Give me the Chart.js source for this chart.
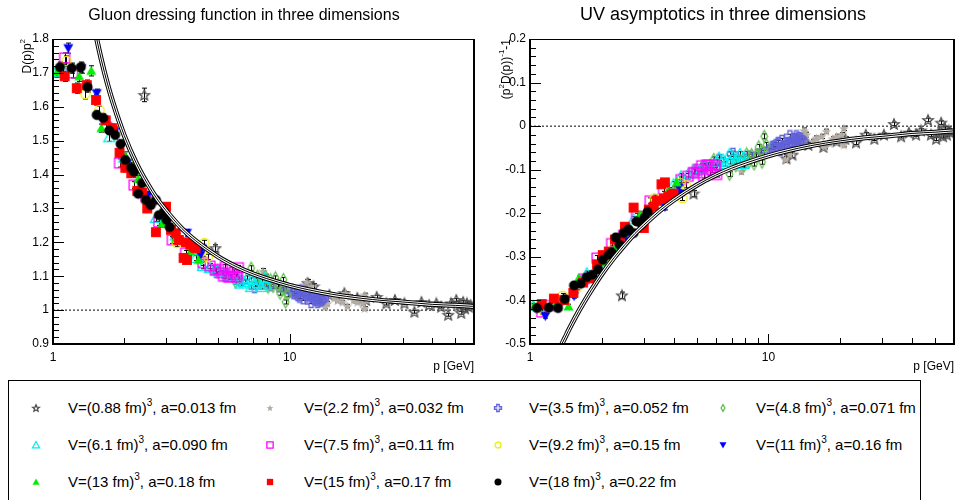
<!DOCTYPE html>
<html>
<head>
<meta charset="utf-8">
<script src="https://cdn.jsdelivr.net/npm/chart.js@4.4.0/dist/chart.umd.min.js"></script>
<style>
body { margin: 0; background: #fff; font-family: "Liberation Sans", Arial, sans-serif; }
#marco { position: relative; width: 960px; height: 500px; overflow: hidden; }
#grafIzq { position: absolute; left: 0; top: 0; }
#grafDer { position: absolute; left: 480px; top: 0; }
#leyenda { position: absolute; left: 8px; top: 380px; width: 913px; height: 140px; border: 1px solid #000; box-sizing: border-box; }
#leyenda canvas { position: absolute; }
.item { position: absolute; font-size: 15px; line-height: 18px; white-space: nowrap; color: #000; }
.item sup { font-size: 10px; vertical-align: 0; position: relative; top: -7px; }
</style>
</head>
<body>
<div id="marco">
  <canvas id="grafIzq" width="480" height="375"></canvas>
  <canvas id="grafDer" width="480" height="375"></canvas>
  <div id="leyenda"></div>
</div>
<script>
// datos: [p (GeV), D(p)p^2, error]
const s088 = [[2.43,1.635,0.02],[4.85,1.183,0.01],[11.9,1.08,0.01],[12.6,1.07,0.008],[14.7,1.045,0.006],[17.0,1.05,0.006],
  [19.3,1.036,0.005],[21.0,1.03,0.005],[23.3,1.039,0.005],[25.6,1.02,0.005],[27.8,1.03,0.004],[30.5,1.02,0.004],
  [33.6,0.995,0.004],[36.0,1.024,0.004],[38.8,1.015,0.004],[41.6,1.02,0.004],[43.6,1.01,0.004],[46.7,0.986,0.004],
  [48.0,1.02,0.004],[50.5,1.03,0.004],[52.0,1.015,0.004],[53.0,0.992,0.004],[54.0,1.024,0.004],[55.0,1.005,0.004],
  [56.0,1.02,0.004],[57.0,1.01,0.004],[58.0,1.015,0.004]]
const s22 = [[7.7,1.115,0.008],[11.8,1.083,0.008],[12.3,1.07,0.007],[14.1,1.036,0.006],[14.4,1.045,0.006],[14.4,1.02,0.006],
  [14.1,1.01,0.006],[15.4,1.036,0.005],[15.9,1.028,0.005],[16.7,1.024,0.005],[17.2,1.05,0.005],[17.5,1.012,0.005],
  [18.0,1.04,0.005],[18.6,1.03,0.005],[19.3,1.024,0.005],[19.8,1.035,0.005],[20.3,1.02,0.005],[20.7,1.045,0.005],
  [20.7,1.005,0.005],[21.2,1.03,0.005]]
const s35 = [[4.9,1.113,0.008],[5.4,1.105,0.008],[6.2,1.085,0.007],[7.1,1.068,0.007],[8.3,1.075,0.006],[9.0,1.07,0.006],
  [9.6,1.065,0.006],[10.1,1.06,0.006],[10.4,1.05,0.006],[10.6,1.055,0.006],[10.8,1.045,0.006],[11.0,1.04,0.006],
  [11.2,1.058,0.006],[11.4,1.035,0.006],[11.6,1.05,0.006],[12.0,1.04,0.005],[12.2,1.045,0.005],[12.3,1.024,0.005],
  [12.6,1.045,0.005],[12.8,1.036,0.005],[12.9,1.03,0.005],[13.1,1.024,0.005],[13.3,1.039,0.005],[13.4,1.028,0.005],
  [13.6,1.03,0.005],[13.8,1.035,0.005]]
const s48 = [[4.0,1.18,0.008],[5.9,1.083,0.007],[6.87,1.124,0.007],[7.3,1.1,0.007],[7.6,1.085,0.006],[7.9,1.1,0.006],
  [8.1,1.068,0.006],[8.3,1.089,0.006],[8.5,1.07,0.006],[8.7,1.095,0.006],[8.9,1.074,0.006],[9.1,1.05,0.006],
  [9.35,1.06,0.006],[9.4,1.09,0.006],[9.6,1.024,0.006],[9.8,1.045,0.006]]
const s61 = [[1.03,1.703,0.015],[1.1,1.71,0.015],[1.73,1.51,0.012],[2.0,1.45,0.012],[2.35,1.37,0.01],[2.72,1.272,0.01],
  [3.3,1.22,0.01],[4.0,1.154,0.008],[4.3,1.13,0.008],[4.6,1.124,0.008],[4.9,1.115,0.008],[5.2,1.11,0.007],
  [5.4,1.1,0.007],[5.66,1.098,0.007],[6.1,1.09,0.007],[6.2,1.078,0.007],[6.45,1.083,0.006],[6.6,1.095,0.006],
  [6.87,1.089,0.006],[6.87,1.068,0.006],[7.1,1.075,0.006],[7.3,1.09,0.006],[7.35,1.08,0.006],[7.6,1.068,0.006],
  [7.85,1.095,0.006],[7.9,1.075,0.006]]
const s75 = [[1.12,1.744,0.015],[1.21,1.70,0.015],[1.68,1.54,0.012],[1.91,1.434,0.012],[2.2,1.369,0.01],[2.47,1.334,0.01],
  [2.8,1.26,0.01],[3.19,1.207,0.01],[3.63,1.168,0.008],[4.3,1.14,0.008],[4.6,1.13,0.008],[4.85,1.119,0.008],
  [5.0,1.12,0.007],[5.15,1.11,0.007],[5.25,1.1,0.007],[5.35,1.128,0.007],[5.5,1.098,0.007],[5.6,1.098,0.007],
  [5.7,1.12,0.007],[5.8,1.112,0.007],[5.95,1.098,0.007],[6.0,1.105,0.007],[6.06,1.125,0.007]]
const s92 = [[1.14,1.735,0.015],[1.37,1.638,0.015],[1.57,1.59,0.012],[1.83,1.53,0.012],[2.14,1.425,0.01],[2.59,1.316,0.01],
  [3.09,1.257,0.01],[3.33,1.198,0.01],[4.28,1.151,0.008],[4.36,1.198,0.008],[4.5,1.157,0.008]]
const s11 = [[1.16,1.773,0.015],[1.32,1.714,0.015],[1.53,1.64,0.012],[1.82,1.526,0.012],[2.06,1.434,0.01],[2.52,1.34,0.01],
  [3.0,1.287,0.01],[3.68,1.228,0.01],[4.2,1.163,0.008],[4.25,1.183,0.008]]
const s13 = [[1.04,1.703,0.015],[1.29,1.69,0.015],[1.45,1.706,0.015],[1.6,1.537,0.012],[1.82,1.527,0.012],[2.02,1.455,0.012],
  [2.29,1.387,0.01],[2.47,1.325,0.01],[2.89,1.255,0.01],[3.31,1.213,0.01],[3.81,1.172,0.008],[4.12,1.148,0.008]]
const s15 = [[1.12,1.69,0.015],[1.26,1.655,0.015],[1.39,1.664,0.015],[1.52,1.62,0.015],[1.67,1.56,0.012],[1.78,1.537,0.012],
  [1.91,1.464,0.012],[2.02,1.42,0.012],[2.14,1.404,0.012],[2.27,1.352,0.01],[2.38,1.346,0.01],[2.5,1.30,0.01],
  [2.72,1.23,0.01],[3.0,1.305,0.01],[3.15,1.237,0.01],[3.3,1.227,0.01],[3.4,1.207,0.01],[3.56,1.154,0.01],
  [3.64,1.20,0.01],[3.68,1.148,0.01],[3.8,1.193,0.01],[3.93,1.187,0.01],[4.0,1.183,0.01]]
const s18 = [[1.07,1.717,0.015],[1.2,1.714,0.015],[1.31,1.717,0.015],[1.4,1.658,0.015],[1.53,1.576,0.012],[1.63,1.567,0.012],
  [1.73,1.53,0.012],[1.83,1.517,0.012],[1.93,1.49,0.012],[2.02,1.443,0.012],[2.14,1.42,0.01],[2.2,1.408,0.01],
  [2.29,1.343,0.01],[2.38,1.375,0.01],[2.47,1.325,0.01],[2.59,1.31,0.01],[2.72,1.325,0.01],[2.8,1.28,0.01],
  [2.94,1.29,0.01],[3.02,1.266,0.01],[3.11,1.245,0.01]]
const series = [s088, s22, s35, s48, s61, s75, s92, s11, s13, s15, s18]
const volumenes = ["0.88", "2.2", "3.5", "4.8", "6.1", "7.5", "9.2", "11", "13", "15", "18"]
const espaciados = ["0.013", "0.032", "0.052", "0.071", "0.090", "0.11", "0.15", "0.16", "0.18", "0.17", "0.22"]

// curva de ajuste
const ajusteP = [1.36, 1.4, 1.45, 1.5, 1.6, 1.7, 1.8, 2, 2.25, 2.5, 2.75, 3, 3.5, 4, 5, 6, 7, 8, 10, 12, 15, 20, 25, 30, 40, 50, 60]
const ajusteD = [2.0, 1.946, 1.883, 1.829, 1.739, 1.667, 1.608, 1.515, 1.433, 1.374, 1.328, 1.294, 1.241, 1.205, 1.157,
  1.127, 1.107, 1.093, 1.073, 1.06, 1.047, 1.035, 1.028, 1.024, 1.017, 1.014, 1.011]

// ejes
const xEtiquetas = [1, 10]
const xMenores = [2, 3, 4, 5, 6, 7, 8, 9, 20, 30, 40, 50]
const yEtiquetasIzq = [0.9, 1, 1.1, 1.2, 1.3, 1.4, 1.5, 1.6, 1.7, 1.8]
const yEtiquetasDer = [-0.5, -0.4, -0.3, -0.2, -0.1, 0, 0.1, 0.2]

const familia = "'Liberation Sans', Arial, sans-serif"
const estilos = [
  { tipo: "estrella", color: "#4d4d4d", t: 11 },
  { tipo: "estrellaLlena", color: "#b5ada5", t: 10 },
  { tipo: "cruz", color: "#6262dc", t: 11 },
  { tipo: "rombo", color: "#5fbf4c", t: 12 },
  { tipo: "tri", color: "#00eeee", t: 11 },
  { tipo: "cuadro", color: "#ff00ff", t: 11 },
  { tipo: "circulo", color: "#eeee00", t: 11 },
  { tipo: "triAbajoLleno", color: "#0000ff", t: 10 },
  { tipo: "triLleno", color: "#00ee00", t: 10 },
  { tipo: "cuadroLleno", color: "#ff0000", t: 11 },
  { tipo: "circuloLleno", color: "#000000", t: 10 }
]

function marcador(tipo, color, t) {
  const c = document.createElement("canvas")
  c.width = t + 3
  c.height = t + 3
  const g = c.getContext("2d")
  const m = c.width / 2, r = t / 2
  g.strokeStyle = color
  g.fillStyle = color
  g.lineWidth = 1.3
  let pts = null
  if (tipo == "estrella" || tipo == "estrellaLlena") {
    pts = []
    for (let k = 0; k < 10; k++) {
      const rr = k % 2 ? r * 0.45 : r
      const a = -Math.PI / 2 + k * Math.PI / 5
      pts.push([rr * Math.cos(a), rr * Math.sin(a) + r * 0.1])
    }
  } else if (tipo == "cruz") {
    const w = r * 0.36
    pts = [[-w, -r], [w, -r], [w, -w], [r, -w], [r, w], [w, w], [w, r], [-w, r], [-w, w], [-r, w], [-r, -w], [-w, -w]]
  } else if (tipo == "rombo") {
    pts = [[0, -r], [r * 0.55, 0], [0, r], [-r * 0.55, 0]]
  } else if (tipo == "tri" || tipo == "triLleno") {
    pts = [[0, -r], [r, r * 0.8], [-r, r * 0.8]]
  } else if (tipo == "triAbajoLleno") {
    pts = [[0, r], [r, -r * 0.8], [-r, -r * 0.8]]
  } else if (tipo == "cuadro" || tipo == "cuadroLleno") {
    const q = r * 0.9
    pts = [[-q, -q], [q, -q], [q, q], [-q, q]]
  }
  g.beginPath()
  if (pts) {
    pts.forEach(p => g.lineTo(m + p[0], m + p[1]))
    g.closePath()
  } else {
    g.arc(m, m, r * (tipo == "circulo" ? 0.85 : 1), 0, Math.PI * 2)
  }
  if (tipo.indexOf("Llen") >= 0) g.fill()
  else g.stroke()
  return c
}

const barrasError = {
  id: "barrasError",
  beforeDatasetsDraw(chart) {
    const g = chart.ctx, a = chart.chartArea, ys = chart.scales.y
    g.save()
    g.beginPath()
    g.rect(a.left, a.top, a.right - a.left, a.bottom - a.top)
    g.clip()
    g.strokeStyle = "#000"
    g.lineWidth = 1
    g.beginPath()
    chart.data.datasets.forEach((ds, i) => {
      if (!ds.errores) return
      const meta = chart.getDatasetMeta(i)
      meta.data.forEach((pt, j) => {
        const x = Math.round(pt.x) + 0.5
        const y0 = ys.getPixelForValue(ds.data[j].y - ds.errores[j])
        const y1 = ys.getPixelForValue(ds.data[j].y + ds.errores[j])
        g.moveTo(x, y0); g.lineTo(x, y1)
        g.moveTo(x - 2.5, y0); g.lineTo(x + 2.5, y0)
        g.moveTo(x - 2.5, y1); g.lineTo(x + 2.5, y1)
      })
    })
    g.stroke()
    g.restore()
  }
}

function textoRico(g, partes, xFin) {
  const normal = "12px " + familia, sup = "8px " + familia
  let ancho = 0
  partes.forEach(p => { g.font = p[1] ? sup : normal; ancho += g.measureText(p[0]).width })
  let x = xFin - ancho
  g.textAlign = "left"
  g.textBaseline = "middle"
  partes.forEach(p => {
    g.font = p[1] ? sup : normal
    g.fillText(p[0], x, p[1] ? -5 : 0)
    x += g.measureText(p[0]).width
  })
}

function decorado(cfg) {
  return {
    id: "decorado",
    afterDraw(chart) {
      const g = chart.ctx, a = chart.chartArea, sx = chart.scales.x, sy = chart.scales.y
      g.save()
      g.strokeStyle = "#000"
      g.lineWidth = 1
      g.beginPath()
      const n = Math.round((cfg.yMax - cfg.yMin) / 0.02)
      for (let k = 0; k <= n; k++) {
        const py = Math.round(sy.getPixelForValue(cfg.yMin + k * 0.02)) + 0.5
        g.moveTo(a.left, py)
        g.lineTo(a.left + (k % 5 == 0 ? 11 : 6), py)
      }
      xEtiquetas.forEach(v => {
        const px = Math.round(sx.getPixelForValue(v)) + 0.5
        g.moveTo(px, a.bottom); g.lineTo(px, a.bottom - 10)
      })
      xMenores.forEach(v => {
        const px = Math.round(sx.getPixelForValue(v)) + 0.5
        g.moveTo(px, a.bottom); g.lineTo(px, a.bottom - 6)
      })
      g.stroke()
      g.strokeRect(a.left + 0.5, a.top + 0.5, a.right - a.left - 1, a.bottom - a.top - 1)
      g.lineWidth = 2
      g.beginPath()
      g.moveTo(a.left, a.top); g.lineTo(a.left, a.bottom); g.lineTo(a.right, a.bottom); g.lineTo(a.right, a.top)
      g.stroke()

      g.fillStyle = "#000"
      g.font = cfg.tituloFuente + " " + familia
      g.textAlign = "center"
      g.textBaseline = "alphabetic"
      g.fillText(cfg.titulo, cfg.tituloX, 20)
      g.font = "12px " + familia
      g.textAlign = "right"
      g.fillText("p [GeV]", a.right, 370)

      g.translate(cfg.ejeX, a.top)
      g.rotate(-Math.PI / 2)
      textoRico(g, cfg.ejeTitulo, 0)
      g.restore()
    }
  }
}

function crearGrafica(lienzo, uv) {
  const trans = d => uv ? 1 / d - 1 : d
  const datasets = []
  series.forEach((s, i) => {
    datasets.push({
      type: "scatter",
      data: s.map(q => ({ x: q[0], y: trans(q[1]) })),
      errores: s.map(q => uv ? q[2] / (q[1] * q[1]) : q[2]),
      pointStyle: marcador(estilos[i].tipo, estilos[i].color, estilos[i].t),
      pointRadius: 5,
      order: 20 - i
    })
  })
  const curva = ajusteP.map((p, j) => ({ x: p, y: trans(ajusteD[j]) }))
  const trazos = [[5, "#000"], [3, "#fff"], [1, "#000"]]
  trazos.forEach((l, k) => {
    datasets.push({
      type: "line", data: curva, borderColor: l[1], borderWidth: l[0],
      pointRadius: 0, cubicInterpolationMode: "monotone", order: 2 - k
    })
  })
  const ref = uv ? 0 : 1
  datasets.push({
    type: "line", data: [{ x: 1, y: ref }, { x: 60, y: ref }], borderColor: "#000", borderWidth: 1,
    borderDash: [2, 2], pointRadius: 0, order: 30
  })
  const yEtiq = uv ? yEtiquetasDer : yEtiquetasIzq
  const fuente = { size: 12, family: familia }
  return new Chart(lienzo, {
    type: "scatter",
    data: { datasets: datasets },
    options: {
      responsive: false,
      animation: false,
      devicePixelRatio: 1,
      layout: { padding: { top: 39, right: uv ? 4 : 2, left: 0, bottom: 0 } },
      plugins: { legend: { display: false }, tooltip: { enabled: false } },
      scales: {
        x: {
          type: "logarithmic", min: 1, max: 60,
          afterFit: s => { s.height = 31 },
          afterBuildTicks: s => { s.ticks = xEtiquetas.map(v => ({ value: v })) },
          ticks: { callback: v => String(v), font: fuente, color: "#000", padding: 6, maxRotation: 0, autoSkip: false },
          grid: { display: false, drawTicks: false },
          border: { display: false }
        },
        y: {
          min: yEtiq[0], max: yEtiq[yEtiq.length - 1],
          afterFit: s => { s.width = uv ? 50 : 53 },
          afterBuildTicks: s => { s.ticks = yEtiq.map(v => ({ value: v })) },
          ticks: { callback: v => String(v), font: fuente, color: "#000", padding: 4, autoSkip: false },
          grid: { display: false, drawTicks: false },
          border: { display: false }
        }
      }
    },
    plugins: [barrasError, decorado(uv ? {
      titulo: "UV asymptotics in three dimensions", tituloFuente: "18px", tituloX: 243,
      yMin: -0.5, yMax: 0.2, ejeX: 27,
      ejeTitulo: [["(p", 0], ["2", 1], ["D(p))", 0], ["-1", 1], ["-1", 0]]
    } : {
      titulo: "Gluon dressing function in three dimensions", tituloFuente: "16px", tituloX: 244,
      yMin: 0.9, yMax: 1.8, ejeX: 28,
      ejeTitulo: [["D(p)p", 0], ["2", 1]]
    })]
  })
}

crearGrafica(document.querySelector("#grafIzq"), false)
crearGrafica(document.querySelector("#grafDer"), true)

// leyenda
const leyenda = document.querySelector("#leyenda")
const colX = [36, 270, 498, 723], textoX = [68, 304, 529, 756], filaY = [408, 445, 482]
volumenes.forEach((v, i) => {
  const col = i % 4, fila = Math.floor(i / 4)
  const m = marcador(estilos[i].tipo, estilos[i].color, 7)
  m.style.left = (colX[col] - 9 - m.width / 2) + "px"
  m.style.top = (filaY[fila] - 381 - m.height / 2) + "px"
  leyenda.appendChild(m)
  const t = document.createElement("div")
  t.className = "item"
  t.innerHTML = `V=(${v} fm)<sup>3</sup>, a=${espaciados[i]} fm`
  t.style.left = (textoX[col] - 9) + "px"
  t.style.top = (filaY[fila] - 381 - 9) + "px"
  leyenda.appendChild(t)
})
</script>
</body>
</html>
